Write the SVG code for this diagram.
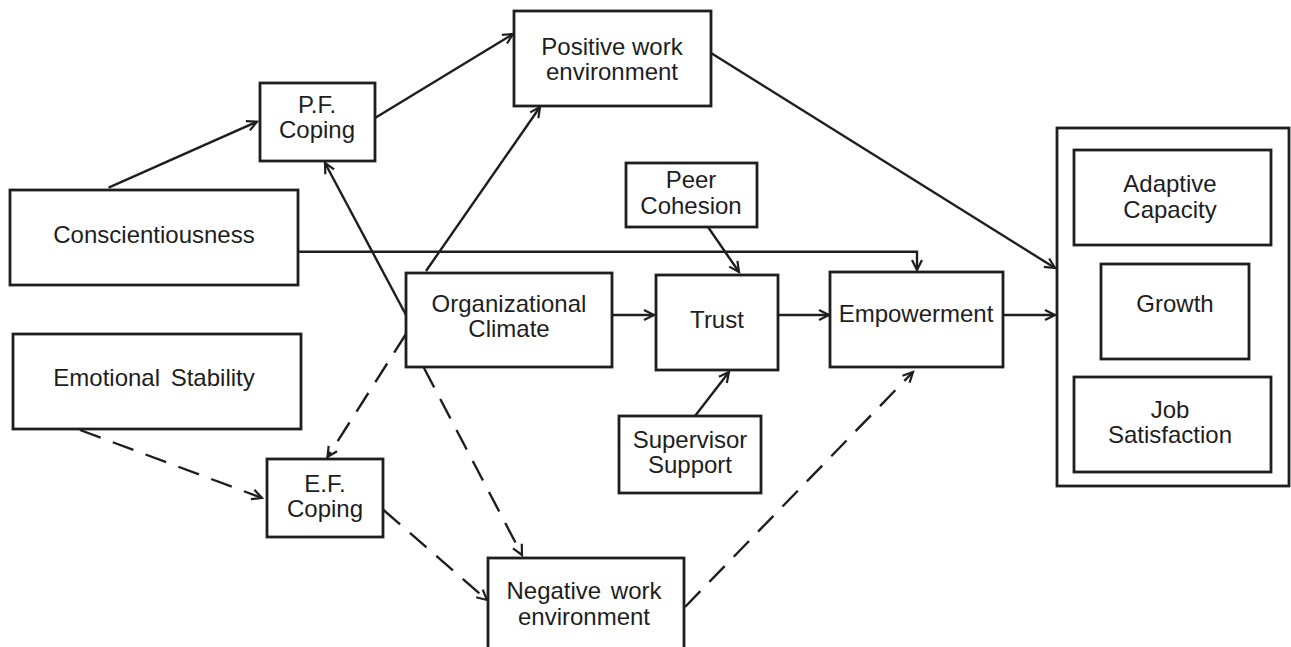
<svg xmlns="http://www.w3.org/2000/svg" width="1291" height="647" viewBox="0 0 1291 647">
<defs>
<style>
.box{fill:#fff;stroke:#1e1e1e;stroke-width:2.8}
.t{font-family:"Liberation Sans",Arial,sans-serif;font-size:24px;fill:#1e1e1e;text-anchor:middle}
.c{fill:none;stroke:#1e1e1e;stroke-width:2.4}
.d{stroke-dasharray:22 13}
</style>
<marker id="ah" markerUnits="userSpaceOnUse" markerWidth="14" markerHeight="14" refX="11" refY="6" orient="auto" viewBox="0 0 14 12">
<path d="M1,1 L11,6 L1,11" fill="none" stroke="#1e1e1e" stroke-width="2.2" stroke-dasharray="none"/>
</marker>
</defs>
<rect width="1291" height="647" fill="#fff"/>
<g id="connectors">
<path class="c" d="M108.6,187.7 L257,121.7" marker-end="url(#ah)"/>
<path class="c" d="M375,118 L513,34" marker-end="url(#ah)"/>
<path class="c" d="M426,271 L540,107" marker-end="url(#ah)"/>
<path class="c" d="M406,315 L325,163" marker-end="url(#ah)"/>
<path class="c" d="M298,251.7 H917 V270" marker-end="url(#ah)"/>
<path class="c" d="M711,53 L1055,268" marker-end="url(#ah)"/>
<path class="c" d="M612,315 H654" marker-end="url(#ah)"/>
<path class="c" d="M708,227 L739,272" marker-end="url(#ah)"/>
<path class="c" d="M778,315 H829" marker-end="url(#ah)"/>
<path class="c" d="M695,416 L729,372" marker-end="url(#ah)"/>
<path class="c" d="M1003,315 H1055" marker-end="url(#ah)"/>
<path class="c d" d="M80,430 L262,498" marker-end="url(#ah)"/>
<path class="c d" d="M406,334 L327.5,457" marker-end="url(#ah)"/>
<path class="c d" d="M424,368 L522,555" marker-end="url(#ah)"/>
<path class="c d" d="M383.5,510 L487,600" marker-end="url(#ah)"/>
<path class="c d" d="M685,607 L913,372" marker-end="url(#ah)"/>
</g>
<g id="positive"><rect class="box" x="514" y="11" width="197" height="95"/><text class="t" x="612" y="55">Positive work</text><text class="t" x="612" y="80">environment</text></g>
<g id="pfcoping"><rect class="box" x="260" y="83" width="115" height="78"/><text class="t" x="317" y="113">P.F.</text><text class="t" x="317" y="138">Coping</text></g>
<g id="conscientiousness"><rect class="box" x="10" y="190" width="288" height="95"/><text class="t" x="154" y="243">Conscientiousness</text></g>
<g id="orgclimate"><rect class="box" x="406" y="273" width="206" height="94"/><text class="t" x="509" y="312">Organizational</text><text class="t" x="509" y="337">Climate</text></g>
<g id="peer"><rect class="box" x="626" y="163" width="131" height="64"/><text class="t" x="691" y="188">Peer</text><text class="t" x="691" y="214">Cohesion</text></g>
<g id="trust"><rect class="box" x="656" y="275" width="122" height="95"/><text class="t" x="717" y="328">Trust</text></g>
<g id="supervisor"><rect class="box" x="619" y="416" width="142" height="77"/><text class="t" x="690" y="448">Supervisor</text><text class="t" x="690" y="473">Support</text></g>
<g id="empowerment"><rect class="box" x="830" y="272" width="173" height="95"/><text class="t" x="916" y="322">Empowerment</text></g>
<g id="emotional"><rect class="box" x="13" y="334" width="288" height="95"/><text class="t" x="154" y="386" word-spacing="4">Emotional Stability</text></g>
<g id="efcoping"><rect class="box" x="267" y="459" width="116" height="78"/><text class="t" x="325" y="492">E.F.</text><text class="t" x="325" y="517">Coping</text></g>
<g id="negative"><rect class="box" x="488" y="558" width="196" height="100"/><text class="t" x="584" y="599" word-spacing="3">Negative work</text><text class="t" x="584" y="625">environment</text></g>
<g id="outcomes"><rect class="box" x="1057" y="128" width="232" height="358"/>
<g id="adaptive"><rect class="box" x="1074" y="150" width="197" height="95"/><text class="t" x="1170" y="192">Adaptive</text><text class="t" x="1170" y="218">Capacity</text></g>
<g id="growth"><rect class="box" x="1101" y="264" width="148" height="95"/><text class="t" x="1175" y="312">Growth</text></g>
<g id="jobsat"><rect class="box" x="1074" y="377" width="197" height="95"/><text class="t" x="1170" y="418">Job</text><text class="t" x="1170" y="443">Satisfaction</text></g>
</g>
</svg>
